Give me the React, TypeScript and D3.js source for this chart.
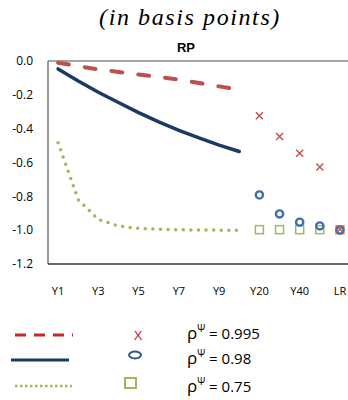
import React, { useEffect, useRef } from 'react';
import * as d3 from 'd3';

// x categories (15 slots: Y1..Y10, then Y20..Y50, LR)
const categories = ['Y1', 'Y2', 'Y3', 'Y4', 'Y5', 'Y6', 'Y7', 'Y8', 'Y9', 'Y10', 'Y20', 'Y30', 'Y40', 'Y50', 'LR'];
const tickLabels = ['Y1', 'Y3', 'Y5', 'Y7', 'Y9', 'Y20', 'Y40', 'LR'];
const yTicks = [0, -0.2, -0.4, -0.6, -0.8, -1.0, -1.2];

// lines, annual Y1..Y10
const lineYears = ['Y1', 'Y2', 'Y3', 'Y4', 'Y5', 'Y6', 'Y7', 'Y8', 'Y9', 'Y10'];
const red995 = [-0.01, -0.03, -0.05, -0.065, -0.08, -0.095, -0.11, -0.13, -0.15, -0.17];
const navy98 = [-0.047, -0.118, -0.185, -0.245, -0.305, -0.36, -0.41, -0.455, -0.497, -0.535];
const green75 = [-0.483, -0.82, -0.937, -0.975, -0.99, -0.995, -0.998, -0.999, -1.0, -1.0];

// markers at long horizons
const markerYears = ['Y20', 'Y30', 'Y40', 'Y50', 'LR'];
const redMarks = [-0.323, -0.447, -0.546, -0.627, -0.995];
const navyMarks = [-0.792, -0.904, -0.953, -0.975, -0.999];
const greenMarks = [-0.997, -0.997, -0.997, -0.997, -0.998];

const legendLabels = ['0.995', '0.98', '0.75'];

const RED = '#C0504D';
const NAVY = '#1B3A63';
const BLUE = '#3F6FB0';
const GREEN = '#9BBB59';

const Chart = () => {
    const svgRef = useRef<SVGSVGElement>(null);
    useEffect(() => {
        const svg = d3.select(svgRef.current);
        svg.selectAll('*').remove();
        const width = 348;
        const height = 400;
        const left = 48, right = 350, top = 61, bottom = 264;

        svg.attr('width', width).attr('height', height);

        const xScale = d3.scalePoint<string>()
            .domain(categories)
            .range([left, right])
            .padding(0.5);

        const yScale = d3.scaleLinear()
            .domain([-1.2, 0])
            .range([bottom, top]);

        // title
        svg.append('text')
            .attr('x', 190).attr('y', 25)
            .attr('text-anchor', 'middle')
            .style('font-family', '"Liberation Serif", serif')
            .style('font-style', 'italic')
            .style('font-size', '24px')
            .style('letter-spacing', '1.6px')
            .text('(in basis points)');

        svg.append('text')
            .attr('x', 186).attr('y', 52)
            .attr('text-anchor', 'middle')
            .style('font-family', '"Liberation Sans", sans-serif')
            .style('font-weight', 'bold')
            .style('font-size', '13px')
            .text('RP');

        // frame
        svg.append('line')
            .attr('x1', left).attr('x2', width).attr('y1', top).attr('y2', top)
            .attr('stroke', '#888').attr('stroke-width', 1.5);
        svg.append('line')
            .attr('x1', left).attr('x2', left).attr('y1', top).attr('y2', bottom)
            .attr('stroke', '#777').attr('stroke-width', 1.5);
        svg.append('line')
            .attr('x1', left).attr('x2', width).attr('y1', bottom).attr('y2', bottom)
            .attr('stroke', '#333').attr('stroke-width', 1.5);

        // y tick labels
        svg.selectAll('.ylab')
            .data(yTicks)
            .join('text')
            .attr('class', 'ylab')
            .attr('x', 33)
            .attr('y', d => yScale(d))
            .attr('dy', '0.35em')
            .attr('text-anchor', 'end')
            .style('font-family', '"Open Sans", sans-serif')
            .style('font-size', '12px')
            .text(d => d3.format('.1f')(d).replace('−', '-'));

        // x tick labels
        svg.selectAll('.xlab')
            .data(tickLabels)
            .join('text')
            .attr('class', 'xlab')
            .attr('x', d => xScale(d)!)
            .attr('y', 295)
            .attr('text-anchor', 'middle')
            .style('font-family', '"Open Sans", sans-serif')
            .style('font-size', '11px')
            .text(d => d);

        const line = d3.line<number>()
            .x((d, i) => xScale(lineYears[i])!)
            .y(d => yScale(d));

        svg.append('path')
            .datum(red995)
            .attr('d', line)
            .attr('fill', 'none')
            .attr('stroke', RED)
            .attr('stroke-width', 4)
            .attr('stroke-linecap', 'round')
            .attr('stroke-dasharray', '11 16');

        svg.append('path')
            .datum(navy98)
            .attr('d', line)
            .attr('fill', 'none')
            .attr('stroke', NAVY)
            .attr('stroke-width', 3.5)
            .attr('stroke-linecap', 'round');

        svg.append('path')
            .datum(green75)
            .attr('d', line)
            .attr('fill', 'none')
            .attr('stroke', GREEN)
            .attr('stroke-width', 3.5)
            .attr('stroke-linecap', 'round')
            .attr('stroke-dasharray', '0 7.6');

        // markers
        svg.selectAll('.sq')
            .data(greenMarks)
            .join('rect')
            .attr('class', 'sq')
            .attr('x', (d, i) => xScale(markerYears[i])! - 4)
            .attr('y', d => yScale(d) - 4)
            .attr('width', 8).attr('height', 8)
            .attr('fill', 'none')
            .attr('stroke', GREEN)
            .attr('stroke-width', 1.5);

        svg.selectAll('.circ')
            .data(navyMarks)
            .join('circle')
            .attr('class', 'circ')
            .attr('cx', (d, i) => xScale(markerYears[i])!)
            .attr('cy', d => yScale(d))
            .attr('r', 3.6)
            .attr('fill', 'none')
            .attr('stroke', BLUE)
            .attr('stroke-width', 2.4);

        const xPath = (cx: number, cy: number, s: number) =>
            `M${cx - s},${cy - s}L${cx + s},${cy + s}M${cx - s},${cy + s}L${cx + s},${cy - s}`;
        svg.selectAll('.xm')
            .data(redMarks)
            .join('path')
            .attr('class', 'xm')
            .attr('d', (d, i) => xPath(xScale(markerYears[i])!, yScale(d), 3.5))
            .attr('stroke', RED)
            .attr('stroke-width', 1.4)
            .attr('fill', 'none');

        // legend
        const lg = svg.append('g');
        const rows = [335, 360, 386];
        lg.append('line').attr('x1', 15).attr('x2', 73).attr('y1', rows[0]).attr('y2', rows[0])
            .attr('stroke', '#C8282A').attr('stroke-width', 3).attr('stroke-dasharray', '11 8');
        lg.append('line').attr('x1', 11).attr('x2', 69).attr('y1', rows[1]).attr('y2', rows[1])
            .attr('stroke', NAVY).attr('stroke-width', 3);
        lg.append('line').attr('x1', 15).attr('x2', 72).attr('y1', rows[2]).attr('y2', rows[2])
            .attr('stroke', GREEN).attr('stroke-width', 2.5).attr('stroke-dasharray', '2.5 2.5');

        lg.append('text').attr('x', 138).attr('y', rows[0] + 5)
            .attr('text-anchor', 'middle')
            .style('font-family', '"Liberation Sans", sans-serif')
            .style('font-size', '13px')
            .attr('fill', '#D02020')
            .text('X');
        lg.append('ellipse').attr('cx', 135).attr('cy', 355).attr('rx', 6).attr('ry', 3.5)
            .attr('fill', 'none').attr('stroke', '#2D5A96').attr('stroke-width', 2);
        lg.append('rect').attr('x', 125).attr('y', 378).attr('width', 11).attr('height', 10)
            .attr('fill', 'none').attr('stroke', GREEN).attr('stroke-width', 2);

        const labs = lg.selectAll('.leg')
            .data(legendLabels)
            .join('text')
            .attr('class', 'leg')
            .attr('x', 187)
            .attr('y', (d, i) => rows[i] + 4 + (i === 2 ? 2 : 0))
            .style('font-family', '"Open Sans", sans-serif')
            .style('font-size', '15px');
        labs.append('tspan').style('font-size', '17px').text('ρ');
        labs.append('tspan').attr('dy', -7).style('font-size', '10px').text('Ψ');
        labs.append('tspan').attr('dy', 7).text(d => ' = ' + d);
    }, []);

    return <svg ref={svgRef} style={{ position: 'absolute', left: 0, top: 0 }} />;
};

export default function App() {
    return <Chart />;
}
